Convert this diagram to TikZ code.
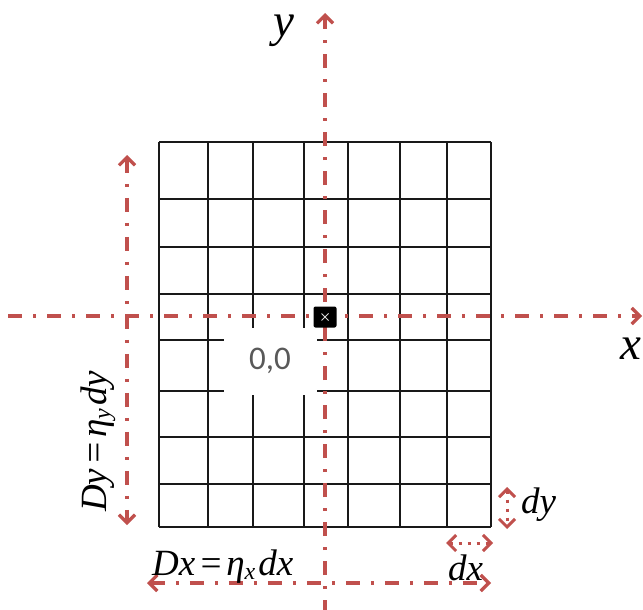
\documentclass[tikz,border=0pt]{standalone}
\usepackage{fontspec}
\setmainfont{Liberation Serif}
\newfontfamily\labfont{Carlito}
\usetikzlibrary{arrows.meta}
\definecolor{axred}{RGB}{192,80,77}
\newcommand{\releq}{\hspace{3pt}=\hspace{3pt}}
\begin{document}
\begin{tikzpicture}[x=1pt,y=-1pt,
  gridline/.style={draw=black!90, line width=2.2pt},
  axisline/.style={draw=axred, line width=3.2pt, dash pattern=on 14pt off 11pt on 3pt off 11pt},
  smallline/.style={draw=axred, line width=3pt, dash pattern=on 3pt off 6pt},
  barb/.tip={Straight Barb[length=8pt,width=16pt]},
  biglab/.style={inner sep=0pt, font=\itshape\fontsize{47}{50}\selectfont},
  eqlab/.style={inner sep=0pt, font=\itshape\fontsize{37}{40}\selectfont},
  origlab/.style={inner sep=0pt, text=black!65, font=\labfont\fontsize{33}{38}\selectfont}
]
\useasboundingbox (0,0) rectangle (643,610);
% grid
\foreach \xx in {159,208,253,304,348,400,447,491}
  \draw[gridline] (\xx,142) -- (\xx,527);
\foreach \yy in {142,199,247,294,340,391,437,484,527}
  \draw[gridline] (159,\yy) -- (491,\yy);
% white patch for origin label
\fill[white] (224,328) rectangle (317,395);
\node[origlab] (orig) at (270,361) {0,0};
% axes
\coordinate (ybot) at (325,614);
\coordinate (ytop) at (325,13);
\coordinate (xleft) at (8,316);
\coordinate (xright) at (642,316);
\draw[axisline, -barb] (ybot) -- (ytop);
\draw[axisline, -barb] (xleft) -- (xright);
% origin marker
\node[fill=black, minimum width=23pt, minimum height=21pt, inner sep=0pt, rounded corners=2pt] (sq) at (325,317) {};
\draw[white!85!black, line width=0.8pt] ([shift={(-3.5pt,-3.5pt)}]sq.center) -- ([shift={(3.5pt,3.5pt)}]sq.center);
\draw[white!85!black, line width=0.8pt] ([shift={(-3.5pt,3.5pt)}]sq.center) -- ([shift={(3.5pt,-3.5pt)}]sq.center);
% axis labels
\node[biglab, anchor=base west] (ylab) at (273,37) {y};
\node[biglab, anchor=base west] (xlab) at (620,359) {x};
% Dy arrow
\coordinate (dytop) at (127,155);
\coordinate (dybot) at (127,525);
\draw[axisline, barb-barb] (dytop) -- (dybot);
\node[eqlab, anchor=base west, rotate=90] (dylab) at (106,512) {Dy\releq η\raisebox{-0.25ex}{\fontsize{24}{25}\selectfont y}\hspace{3pt}dy};
% Dx arrow
\coordinate (dxleft) at (147,583);
\coordinate (dxright) at (491,583);
\draw[axisline, barb-barb] (dxleft) -- (dxright);
\node[eqlab, anchor=base west] (dxlab) at (152,575) {Dx\releq η\raisebox{-0.25ex}{\fontsize{24}{25}\selectfont x}\hspace{3pt}dx};
% small dx arrow
\coordinate (sdxl) at (446,543);
\coordinate (sdxr) at (493,543);
\draw[smallline, barb-barb] (sdxl) -- (sdxr);
\node[eqlab, anchor=base west] (sdxlab) at (448,580) {dx};
% small dy arrow
\coordinate (sdyt) at (507,487);
\coordinate (sdyb) at (507,529);
\draw[smallline, barb-barb] (sdyt) -- (sdyb);
\node[eqlab, anchor=base west] (sdylab) at (521,513) {dy};
\end{tikzpicture}
\end{document}
